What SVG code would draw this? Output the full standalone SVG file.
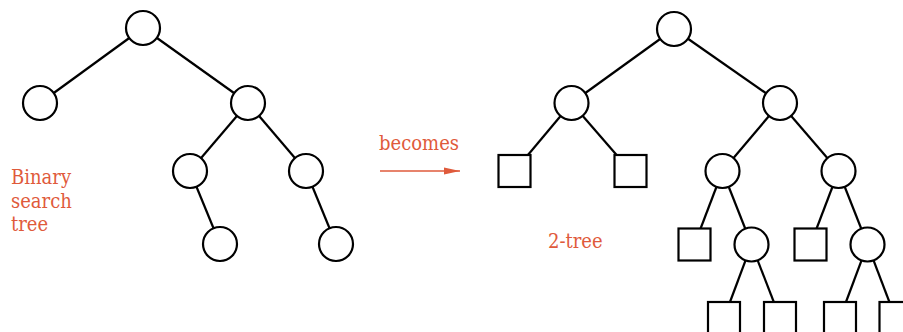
<svg xmlns="http://www.w3.org/2000/svg" width="903" height="332" viewBox="0 0 903 332">
<defs>
<style>
.n{fill:#fff;stroke:#000;stroke-width:2.2}
.e{stroke:#000;stroke-width:2.2;fill:none}
.t{font-family:"DejaVu Serif Condensed","DejaVu Serif","Liberation Serif",serif;font-stretch:condensed;font-size:20px;fill:#df5a3b}
</style>
<marker id="ah" markerWidth="16" markerHeight="8" refX="16" refY="4" orient="auto" markerUnits="userSpaceOnUse">
<path d="M0,0.6 L16,4 L0,7.4 Z" fill="#df5a3b"/>
</marker>
</defs>
<rect width="903" height="332" fill="#fff"/>
<g id="connectors">
<g class="e">
<line x1="143" y1="28" x2="40" y2="103"/>
<line x1="143" y1="28" x2="248" y2="103"/>
<line x1="248" y1="103" x2="190" y2="171"/>
<line x1="248" y1="103" x2="306" y2="171"/>
<line x1="190" y1="171" x2="220" y2="244"/>
<line x1="306" y1="171" x2="336" y2="244"/>
<line x1="674" y1="29" x2="571.5" y2="103"/>
<line x1="674" y1="29" x2="780" y2="103"/>
<line x1="571.5" y1="103" x2="514.5" y2="171"/>
<line x1="571.5" y1="103" x2="630.5" y2="171"/>
<line x1="780" y1="103" x2="722.5" y2="171"/>
<line x1="780" y1="103" x2="838.5" y2="171"/>
<line x1="722.5" y1="171" x2="694.5" y2="244.5"/>
<line x1="722.5" y1="171" x2="751.5" y2="244.5"/>
<line x1="838.5" y1="171" x2="810.5" y2="244.5"/>
<line x1="838.5" y1="171" x2="867.5" y2="244.5"/>
<line x1="751.5" y1="244.5" x2="724" y2="318"/>
<line x1="751.5" y1="244.5" x2="780" y2="318"/>
<line x1="867.5" y1="244.5" x2="840" y2="318"/>
<line x1="867.5" y1="244.5" x2="895.5" y2="318"/>
</g>
<line id="arrow" x1="380" y1="171" x2="460" y2="171" stroke="#df5a3b" stroke-width="1.3" marker-end="url(#ah)"/>
</g>
<g id="L0"><circle class="n" cx="143" cy="28" r="17"/></g>
<g id="L1"><circle class="n" cx="40" cy="103" r="17"/></g>
<g id="L2"><circle class="n" cx="248" cy="103" r="17"/></g>
<g id="L3"><circle class="n" cx="190" cy="171" r="17"/></g>
<g id="L4"><circle class="n" cx="306" cy="171" r="17"/></g>
<g id="L5"><circle class="n" cx="220" cy="244" r="17"/></g>
<g id="L6"><circle class="n" cx="336" cy="244" r="17"/></g>
<g id="R0"><circle class="n" cx="674" cy="29" r="17"/></g>
<g id="R1"><circle class="n" cx="571.5" cy="103" r="17"/></g>
<g id="R2"><circle class="n" cx="780" cy="103" r="17"/></g>
<g id="R3"><circle class="n" cx="722.5" cy="171" r="17"/></g>
<g id="R4"><circle class="n" cx="838.5" cy="171" r="17"/></g>
<g id="R5"><circle class="n" cx="751.5" cy="244.5" r="17"/></g>
<g id="R6"><circle class="n" cx="867.5" cy="244.5" r="17"/></g>
<g id="S1"><rect class="n" x="498.5" y="155" width="32" height="32"/></g>
<g id="S2"><rect class="n" x="614.5" y="155" width="32" height="32"/></g>
<g id="S3"><rect class="n" x="678.5" y="228.5" width="32" height="32"/></g>
<g id="S4"><rect class="n" x="794.5" y="228.5" width="32" height="32"/></g>
<g id="S5"><rect class="n" x="708" y="302" width="32" height="32"/></g>
<g id="S6"><rect class="n" x="764" y="302" width="32" height="32"/></g>
<g id="S7"><rect class="n" x="824" y="302" width="32" height="32"/></g>
<g id="S8"><rect class="n" x="879.5" y="302" width="32" height="32"/></g>
<g id="labels">
<text class="t" x="11" y="184">Binary</text>
<text class="t" x="11" y="207.5">search</text>
<text class="t" x="11" y="231">tree</text>
<text class="t" x="379" y="150">becomes</text>
<text class="t" x="548" y="248">2-tree</text>
</g>
</svg>
